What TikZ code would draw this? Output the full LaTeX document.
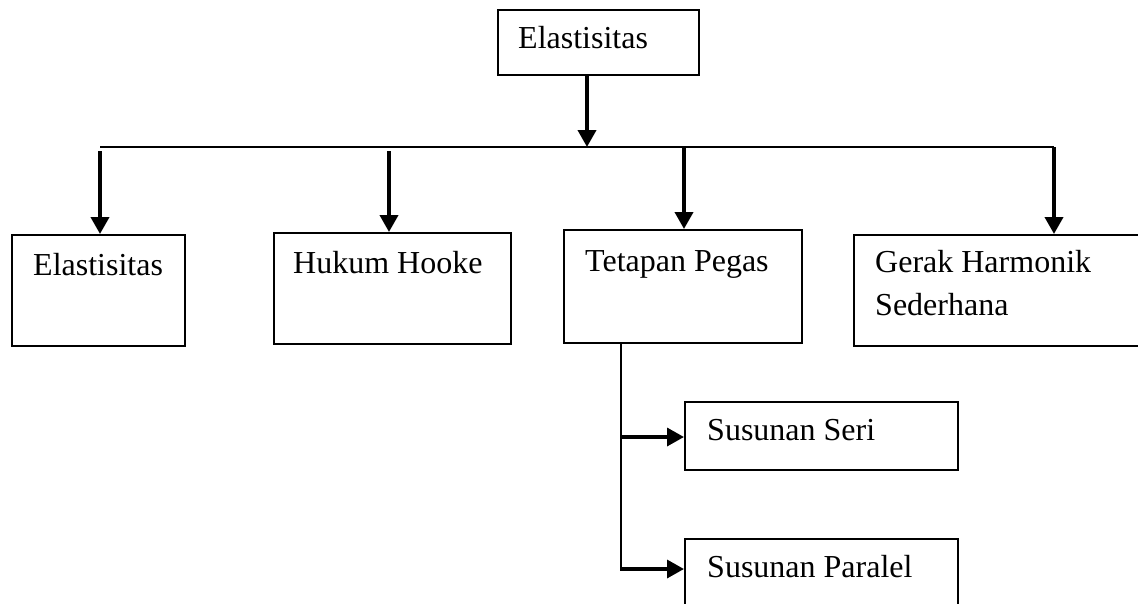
\documentclass[tikz,border=0pt]{standalone}
\usepackage{fontspec}
\setmainfont{Liberation Serif}
\usetikzlibrary{arrows.meta}
\begin{document}
\begin{tikzpicture}[x=1pt,y=-1pt,
  box/.style={draw=black,line width=2.3pt,fill=white,rectangle,inner sep=0pt,anchor=north west},
  label text/.style={anchor=base west,inner sep=0pt,font=\fontsize{32}{43}\selectfont,align=left},
  bus/.style={line width=2.3pt},
  feed/.style={line width=3.8pt,-{Triangle[width=18pt,length=17pt]}},
  branch/.style={line width=2.2pt},
  side/.style={line width=3.4pt,-{Triangle[width=18pt,length=17pt]}}
]
\useasboundingbox (0,0) rectangle (1138,603);
\begin{scope}
\clip (0,0) rectangle (1138,603);

% boxes
\node[box,minimum width=201pt,minimum height=65pt] (top) at (497,9) {};
\node[box,minimum width=173pt,minimum height=111pt] (b1) at (11,234) {};
\node[box,minimum width=237pt,minimum height=111pt] (b2) at (273,232) {};
\node[box,minimum width=238pt,minimum height=113pt] (b3) at (563,229) {};
\node[box,minimum width=300pt,minimum height=111pt] (b4) at (853,234) {};
\node[box,minimum width=273pt,minimum height=68pt] (s1) at (684,401) {};
\node[box,minimum width=273pt,minimum height=100pt] (s2) at (684,538) {};

% texts (a multi-line node sits on the baseline of its last line)
\node[label text] (ttop) at (518,48) {Elastisitas};
\node[label text] (t1) at (33,275) {Elastisitas};
\node[label text] (t2) at (293,273) {Hukum Hooke};
\node[label text] (t3) at (585,271) {Tetapan Pegas};
\node[label text] (t4) at (875,315) {Gerak Harmonik\\Sederhana};
\node[label text] (ts1) at (707,440) {Susunan Seri};
\node[label text] (ts2) at (707,577) {Susunan Paralel};

% bus coordinates
\coordinate (j0) at (587,147);
\coordinate (busL) at (100,147);
\coordinate (busR) at (1054,147);
\coordinate (j2) at (389,147);
\coordinate (j3) at (684,147);

% main feed and bus
\draw[feed] (j0 |- top.south) -- (j0);
\draw[bus] (busL) -- (busR);

% drops to the four topics
\draw[feed] ([yshift=-4pt]busL) -- (busL |- b1.north);
\draw[feed] ([yshift=-4pt]j2) -- (j2 |- b2.north);
\draw[feed] (j3) -- (j3 |- b3.north);
\draw[feed] (busR) -- (busR |- b4.north);

% branches under Tetapan Pegas
\coordinate (v0) at (621,342);
\coordinate (v1) at (621,437);
\coordinate (v2) at (621,569);
\draw[branch] (v0 |- b3.south) -- (v2);
\draw[side] (v1) -- (v1 -| s1.west);
\draw[side] ([xshift=-1pt]v2) -- (v2 -| s2.west);
\end{scope}
\end{tikzpicture}
\end{document}
